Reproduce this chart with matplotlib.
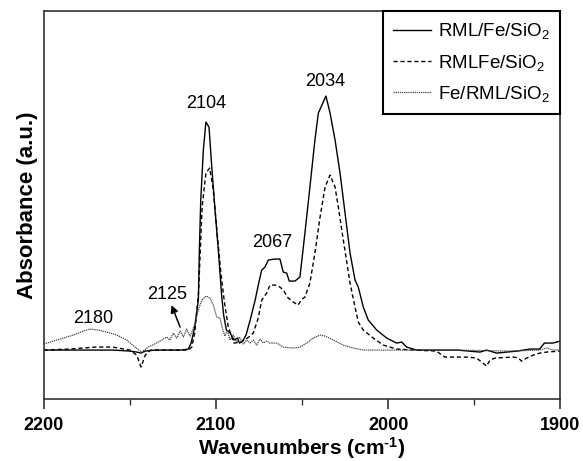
import numpy as np
import matplotlib
matplotlib.use("Agg")
import matplotlib.pyplot as plt

plt.rcParams['font.family'] = ['Liberation Sans', 'DejaVu Sans']
plt.rcParams['mathtext.fontset'] = 'custom'
plt.rcParams['mathtext.rm'] = 'Liberation Sans'
plt.rcParams['mathtext.it'] = 'Liberation Sans:italic'
plt.rcParams['mathtext.bf'] = 'Liberation Sans:bold'
plt.rcParams['mathtext.default'] = 'regular'

# RML/Fe/SiO2 (solid)
solidX = [2200, 2180, 2160, 2150, 2146, 2143.5, 2141, 2135, 2120, 2116, 2114.4, 2112.3,
          2110.2, 2109.6, 2108.8, 2107.3, 2105.8, 2104.0, 2102.4, 2100.5, 2098.6, 2096.6,
          2095.5, 2093.9, 2091.7, 2089.5, 2087.5, 2086.3, 2084.5, 2082.5, 2080.1, 2077.2,
          2075.0, 2073.4, 2071.5, 2069.6, 2066, 2062.8, 2060.9, 2058.9, 2057.4, 2054.1,
          2051.2, 2048.3, 2045.4, 2042.5, 2040.5, 2036.1, 2033.7, 2030.8, 2027.9, 2025.0,
          2022.1, 2019.2, 2017.3, 2014.4, 2011.5, 2006.6, 2000.8, 1995.0, 1992.1, 1989.2,
          1983.4, 1960, 1946.6, 1942.8, 1937, 1925, 1917.6, 1912, 1909.2, 1904.3, 1900]
solidY = [0.00, 0.00, 0.00, -0.01, -0.02, -0.03, -0.01, 0.00, 0.00, 0.01, 0.07, 0.23,
          0.50, 1.00, 1.50, 2.00, 2.28, 2.23, 1.83, 1.40, 1.00, 0.53,
          0.35, 0.20, 0.17, 0.10, 0.12, 0.07, 0.09, 0.15, 0.30, 0.50,
          0.68, 0.80, 0.83, 0.90, 0.91, 0.91, 0.78, 0.77, 0.69, 0.69,
          0.73, 1.17, 1.63, 2.10, 2.37, 2.54, 2.37, 2.10, 1.77, 1.37,
          0.97, 0.70, 0.63, 0.43, 0.30, 0.20, 0.12, 0.07, 0.08, 0.03,
          0.00, 0.00, -0.02, 0.00, -0.03, -0.01, 0.01, 0.01, 0.07, 0.07, 0.09]

# RMLFe/SiO2 (dashed)
dashX = [2200, 2185, 2170, 2160, 2150, 2146, 2143.5, 2141, 2138, 2116, 2114, 2112.3,
         2110.1, 2108, 2105.8, 2103.6, 2101.5, 2099.3, 2097.1, 2095.0, 2092.8, 2089.5,
         2085.2, 2080.9, 2078.3, 2075.4, 2073.4, 2070.5, 2068.6, 2065.7, 2062.8, 2060.9,
         2058.0, 2055.1, 2052.2, 2050.5, 2048.3, 2045.4, 2042.5, 2039.5, 2036.6, 2033.7,
         2030.8, 2028.9, 2026.0, 2022.1, 2019.2, 2017.3, 2014.4, 2008.6, 2002.8, 1995,
         1985, 1972, 1967, 1960.2, 1954.4, 1948.6, 1945.6, 1942.8, 1940.8, 1937.9,
         1927.3, 1924.4, 1922.4, 1919.5, 1915.7, 1911.8, 1907.9, 1900]
dashY = [0.00, 0.01, 0.03, 0.03, 0.00, -0.05, -0.17, -0.05, 0.00, 0.00, 0.03, 0.17,
         0.57, 1.43, 1.77, 1.82, 1.60, 1.17, 0.77, 0.47, 0.23, 0.07,
         0.08, 0.13, 0.17, 0.32, 0.50, 0.57, 0.65, 0.65, 0.63, 0.60,
         0.52, 0.48, 0.45, 0.50, 0.53, 0.67, 0.97, 1.33, 1.63, 1.75,
         1.63, 1.43, 1.10, 0.67, 0.43, 0.28, 0.20, 0.12, 0.05, 0.01,
         0.00, -0.01, -0.07, -0.07, -0.07, -0.08, -0.12, -0.16, -0.10, -0.08,
         -0.07, -0.08, -0.11, -0.08, -0.05, -0.03, -0.02, -0.01]

# Fe/RML/SiO2 (dotted)
dotX = [2200, 2192.5, 2182.8, 2177, 2173.1, 2168.3, 2163.4, 2157.6, 2151.8, 2147, 2143.1,
        2139.3, 2134.4, 2130.5, 2128.6, 2126.7, 2124.7, 2122.8, 2120.8, 2118.9, 2117, 2115,
        2113.5, 2112.1, 2110.2, 2108.2, 2105.7, 2103.4, 2101.5, 2099.5, 2097.6, 2096,
        2094.7, 2093.4, 2091.8, 2089.9, 2087.9, 2086.4, 2084, 2082, 2080.2, 2078.3, 2076.3,
        2074.4, 2072.5, 2070.5, 2068.6, 2064.7, 2060.9, 2055.1, 2051.2, 2047.3, 2043.4,
        2039.6, 2036.6, 2031.8, 2026.0, 2020.2, 2014.4, 1960, 1930, 1912, 1908, 1904, 1900]
dotY = [0.06, 0.10, 0.15, 0.19, 0.21, 0.20, 0.18, 0.15, 0.10, 0.03, -0.02,
        0.03, 0.07, 0.11, 0.13, 0.10, 0.17, 0.12, 0.19, 0.13, 0.21, 0.14,
        0.20, 0.27, 0.40, 0.50, 0.54, 0.52, 0.45, 0.33, 0.32, 0.20,
        0.14, 0.20, 0.10, 0.15, 0.08, 0.13, 0.06, 0.10, 0.07, 0.10, 0.05,
        0.11, 0.07, 0.09, 0.07, 0.07, 0.03, 0.02, 0.03, 0.07, 0.12,
        0.15, 0.14, 0.10, 0.05, 0.02, 0.00, 0.00, -0.01, 0.00, 0.02, 0.00, 0.00]

seriesLabels = [r'RML/Fe/SiO$_2$', r'RMLFe/SiO$_2$', r'Fe/RML/SiO$_2$']

# peak labels (text, x, y)
peakText = ['2104', '2034', '2067', '2125', '2180']
peakX = [2105.8, 2036.6, 2067.5, 2128.4, 2171.4]
peakY = [2.465, 2.69, 1.08, 0.56, 0.32]

fig = plt.figure(figsize=(5.83, 4.61), dpi=100)
ax = fig.add_axes([0.075, 0.135, 0.886, 0.841])

ax.plot(solidX, solidY, color='black', lw=1.0, label=seriesLabels[0])
ax.plot(dashX, dashY, color='black', lw=1.0, ls=(0, (3, 2)), label=seriesLabels[1])
ax.plot(dotX, dotY, color='#444444', lw=0.9, ls=(0, (1, 0.7)), label=seriesLabels[2])

for t, x, y in zip(peakText, peakX, peakY):
    ax.text(x, y, t, fontsize=13, ha='center', va='center')

ax.annotate('', xy=(2125.8, 0.45), xytext=(2120.8, 0.23),
            arrowprops=dict(arrowstyle='-|>', color='black', lw=1.1,
                            mutation_scale=11, shrinkA=0, shrinkB=0))

ax.set_xlim(2200, 1900)
ax.set_ylim(-0.487, 3.39)
ax.set_xticks([2200, 2100, 2000, 1900])
ax.set_xticks([2150, 2050, 1950], minor=True)
ax.set_yticks([])
ax.tick_params(axis='x', which='major', direction='out', length=7, width=1.2,
               labelsize=13, pad=6, color='#333333')
ax.tick_params(axis='x', which='minor', direction='out', length=4, width=1.0,
               color='#333333')
for lab in ax.get_xticklabels():
    lab.set_fontweight('bold')
for s in ax.spines.values():
    s.set_linewidth(1.2)
    s.set_color('#333333')

ax.set_xlabel('Wavenumbers (cm$^{\\mathbf{\u2010}\\mathbf{1}}$)', fontsize=15,
              fontweight='bold', labelpad=1)
ax.set_ylabel('Absorbance (a.u.)', fontsize=16, fontweight='bold', labelpad=4)

leg = ax.legend(loc='upper right', bbox_to_anchor=(1, 1), borderaxespad=0,
                fontsize=13.5, handlelength=2.0, handletextpad=0.4,
                labelspacing=0.6, borderpad=0.55, fancybox=False, framealpha=1)
leg.get_frame().set_edgecolor('black')
leg.get_frame().set_linewidth(1.5)

fig.savefig('out.png', dpi=100)
